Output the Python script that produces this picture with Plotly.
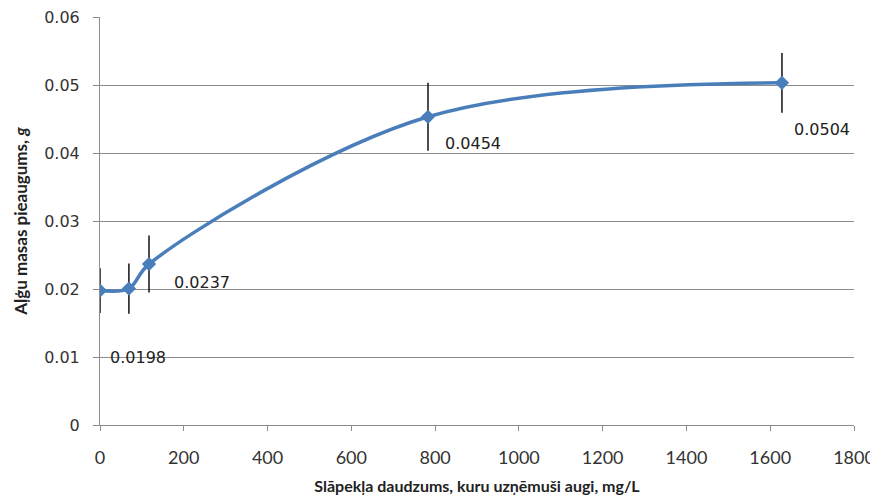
import plotly.graph_objects as go

nitrogen = [0, 69, 117, 783, 1628]
growth = [0.0198, 0.0201, 0.0237, 0.0454, 0.0504]
errors = [0.0033, 0.0037, 0.0042, 0.0050, 0.0044]
label_text = ["0.0198", "", "0.0237", "0.0454", "0.0504"]
label_dx = [8, 0, 23, 15, 10]
label_dy = [-67, 0, -18, -27, -47]

x_ticks = [0, 200, 400, 600, 800, 1000, 1200, 1400, 1600, 1800]
y_ticks = [0, 0.01, 0.02, 0.03, 0.04, 0.05, 0.06]
y_tick_text = ["0", "0.01", "0.02", "0.03", "0.04", "0.05", "0.06"]

fig = go.Figure()
fig.add_trace(go.Scatter(
    x=nitrogen, y=growth, mode="lines+markers",
    line=dict(color="#4a7ebb", width=3.5, shape="spline", smoothing=1),
    marker=dict(symbol="diamond", size=11, color="#4a7ebb"),
    error_y=dict(type="data", array=errors, visible=True, color="#111111",
                 thickness=1.5, width=0),
    showlegend=False,
))

for xv, yv, t, dx, dy in zip(nitrogen, growth, label_text, label_dx, label_dy):
    if t:
        fig.add_annotation(x=xv, y=yv, text=t, showarrow=False,
                           xanchor="left", yanchor="middle",
                           xshift=dx, yshift=dy,
                           font=dict(family="DejaVu Sans", size=16, color="#222222"))

fig.update_layout(
    width=870, height=492,
    margin=dict(l=92, r=24, t=9, b=75),
    paper_bgcolor="white", plot_bgcolor="white",
    xaxis=dict(
        range=[0, 1800], tickvals=x_ticks, showgrid=False, automargin=False,
        showline=True, linecolor="#8c8c8c", linewidth=1,
        ticks="outside", ticklen=5, tickcolor="#8c8c8c",
        tickfont=dict(family="Lato", size=18, color="#333333"),
        ticklabelstandoff=11, ticklabeloverflow="allow",
        zeroline=False,
        title=dict(text="<b>Slāpekļa daudzums, kuru uzņēmuši augi, mg/L</b>",
                   font=dict(family="Lato", size=16, color="#222222"), standoff=14),
    ),
    yaxis=dict(
        range=[0, 0.0601], tickvals=y_ticks, ticktext=y_tick_text, automargin=False,
        showgrid=True, gridcolor="#8c8c8c", gridwidth=1,
        showline=True, linecolor="#8c8c8c", linewidth=1,
        ticks="outside", ticklen=6, tickcolor="#8c8c8c",
        tickfont=dict(family="DejaVu Sans", size=16, color="#333333"),
        ticklabelstandoff=10, ticklabeloverflow="allow",
        zeroline=False,
        title=dict(text="<b>Aļģu masas pieaugums, <i>g</i></b>",
                   font=dict(family="Lato", size=17, color="#222222"), standoff=12),
    ),
)

fig.write_html("out.html")
